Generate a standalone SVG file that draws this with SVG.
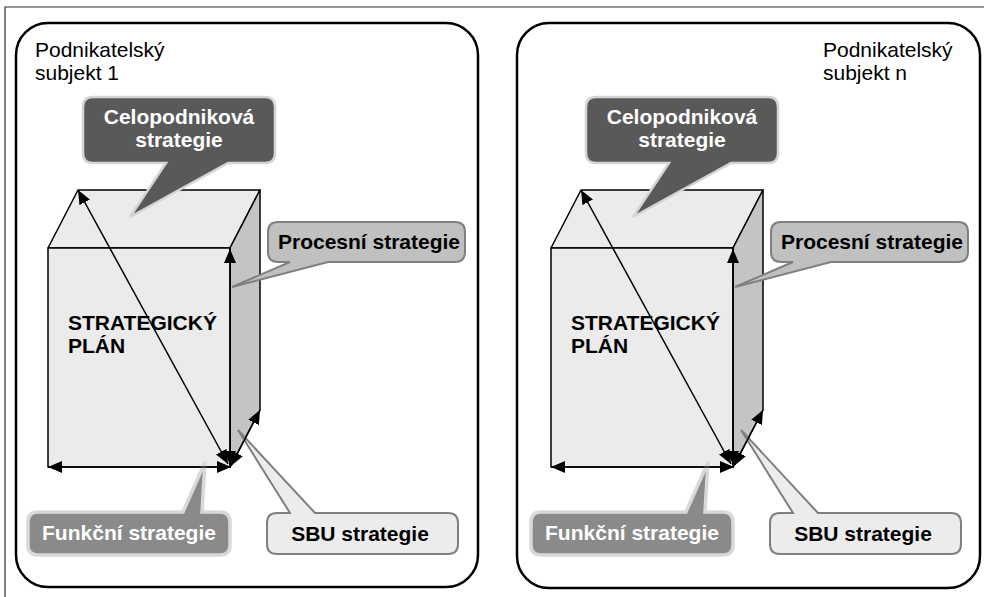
<svg xmlns="http://www.w3.org/2000/svg" width="984" height="597" viewBox="0 0 984 597">
<style>
.panel{fill:#fff;stroke:#000;stroke-width:2.5}
.lbl{font-family:"Liberation Sans",Arial,sans-serif;font-size:21px;fill:#000}
.b{font-family:"Liberation Sans",Arial,sans-serif;font-size:21px;font-weight:bold}
.face{fill:#ebebeb;stroke:#000;stroke-width:1.5;stroke-linejoin:round}
.side{fill:#c4c4c4;stroke:#000;stroke-width:1.5;stroke-linejoin:round}
.celo{fill:#595959;stroke:#d4d4d4;stroke-width:2.5}
.proc{fill:#c0c0c0;stroke:#7f7f7f;stroke-width:2}
.funk{fill:#8a8a8a;stroke:#d9d9d9;stroke-width:3.5}
.sbu{fill:#ececec;stroke:#7f7f7f;stroke-width:2}
.arr{fill:none;stroke:#000;stroke-width:1.5;marker-start:url(#ah);marker-end:url(#ah)}
</style>
<defs>
<marker id="ah" viewBox="0 0 14 12" refX="14" refY="6" markerWidth="14" markerHeight="12" markerUnits="userSpaceOnUse" orient="auto-start-reverse">
<path d="M0,0 L14,6 L0,12 Z" fill="#000"/>
</marker>
</defs>
<g id="frame">
<path d="M5,597 V7 H984" fill="none" stroke="#333" stroke-width="1.2"/>
</g>
<g id="panel-1">
<rect class="panel" x="16" y="23" width="462" height="564" rx="32"/>
<text class="lbl" x="35" y="57">Podnikatelský</text>
<text class="lbl" x="35" y="80">subjekt 1</text>
</g>
<g id="panel-n">
<rect class="panel" x="517" y="23" width="463" height="565" rx="32"/>
<text class="lbl" x="823" y="57">Podnikatelský</text>
<text class="lbl" x="823" y="80">subjekt n</text>
</g>

<g id="plan-1">
<polygon class="face" points="48,248 78,190 260,190 230,248"/>
<polygon class="side" points="230,248 260,190 260,410 230,467"/>
<rect class="face" x="48" y="248" width="182" height="219"/>
<text class="b" x="68" y="330">STRATEGICKÝ</text>
<text class="b" x="68" y="353">PLÁN</text>
</g>
<g id="plan-n" transform="translate(503,0)">
<polygon class="face" points="48,248 78,190 260,190 230,248"/>
<polygon class="side" points="230,248 260,190 260,410 230,467"/>
<rect class="face" x="48" y="248" width="182" height="219"/>
<text class="b" x="68" y="330">STRATEGICKÝ</text>
<text class="b" x="68" y="353">PLÁN</text>
</g>

<g id="celo-1">
<path class="celo" d="M93,97 H265 Q275,97 275,107 V153 Q275,163 265,163 H228 L130,217 L166,163 H93 Q83,163 83,153 V107 Q83,97 93,97 Z"/>
<text class="b" x="179" y="124" fill="#fff" text-anchor="middle">Celopodniková</text>
<text class="b" x="179" y="147" fill="#fff" text-anchor="middle">strategie</text>
</g>
<g id="proc-1">
<path class="proc" d="M278,222 H455 Q465,222 465,232 V252 Q465,262 455,262 H328 L232,287 L290,262 H278 Q268,262 268,252 V232 Q268,222 278,222 Z"/>
<text class="b" x="369" y="249" fill="#000" text-anchor="middle">Procesní strategie</text>
</g>
<g id="funk-1">
<path class="funk" d="M38,512 H183 L205,462 L202,512 H220 Q230,512 230,522 V545 Q230,555 220,555 H38 Q28,555 28,545 V522 Q28,512 38,512 Z"/>
<text class="b" x="129" y="540" fill="#fff" text-anchor="middle">Funkční strategie</text>
</g>
<g id="sbu-1">
<path class="sbu" d="M277,513 H290 L238,430 L315,513 H448 Q458,513 458,523 V544 Q458,554 448,554 H277 Q267,554 267,544 V523 Q267,513 277,513 Z"/>
<text class="b" x="360" y="541" fill="#000" text-anchor="middle">SBU strategie</text>
</g>

<g id="celo-n" transform="translate(503,0)">
<path class="celo" d="M93,97 H265 Q275,97 275,107 V153 Q275,163 265,163 H228 L130,217 L166,163 H93 Q83,163 83,153 V107 Q83,97 93,97 Z"/>
<text class="b" x="179" y="124" fill="#fff" text-anchor="middle">Celopodniková</text>
<text class="b" x="179" y="147" fill="#fff" text-anchor="middle">strategie</text>
</g>
<g id="proc-n" transform="translate(503,0)">
<path class="proc" d="M278,222 H455 Q465,222 465,232 V252 Q465,262 455,262 H328 L232,287 L290,262 H278 Q268,262 268,252 V232 Q268,222 278,222 Z"/>
<text class="b" x="369" y="249" fill="#000" text-anchor="middle">Procesní strategie</text>
</g>
<g id="funk-n" transform="translate(503,0)">
<path class="funk" d="M38,512 H183 L205,462 L202,512 H220 Q230,512 230,522 V545 Q230,555 220,555 H38 Q28,555 28,545 V522 Q28,512 38,512 Z"/>
<text class="b" x="129" y="540" fill="#fff" text-anchor="middle">Funkční strategie</text>
</g>
<g id="sbu-n" transform="translate(503,0)">
<path class="sbu" d="M277,513 H290 L238,430 L315,513 H448 Q458,513 458,523 V544 Q458,554 448,554 H277 Q267,554 267,544 V523 Q267,513 277,513 Z"/>
<text class="b" x="360" y="541" fill="#000" text-anchor="middle">SBU strategie</text>
</g>

<g id="connectors">
<g id="arrows-1">
<path class="arr" d="M228,464 L78,190"/>
<path class="arr" d="M230,465 L230,249"/>
<path class="arr" d="M48,467 L231,467"/>
<path class="arr" d="M231,466 L260,410"/>
</g>
<g id="arrows-n" transform="translate(503,0)">
<path class="arr" d="M228,464 L78,190"/>
<path class="arr" d="M230,465 L230,249"/>
<path class="arr" d="M48,467 L231,467"/>
<path class="arr" d="M231,466 L260,410"/>
</g>
</g>
</svg>
